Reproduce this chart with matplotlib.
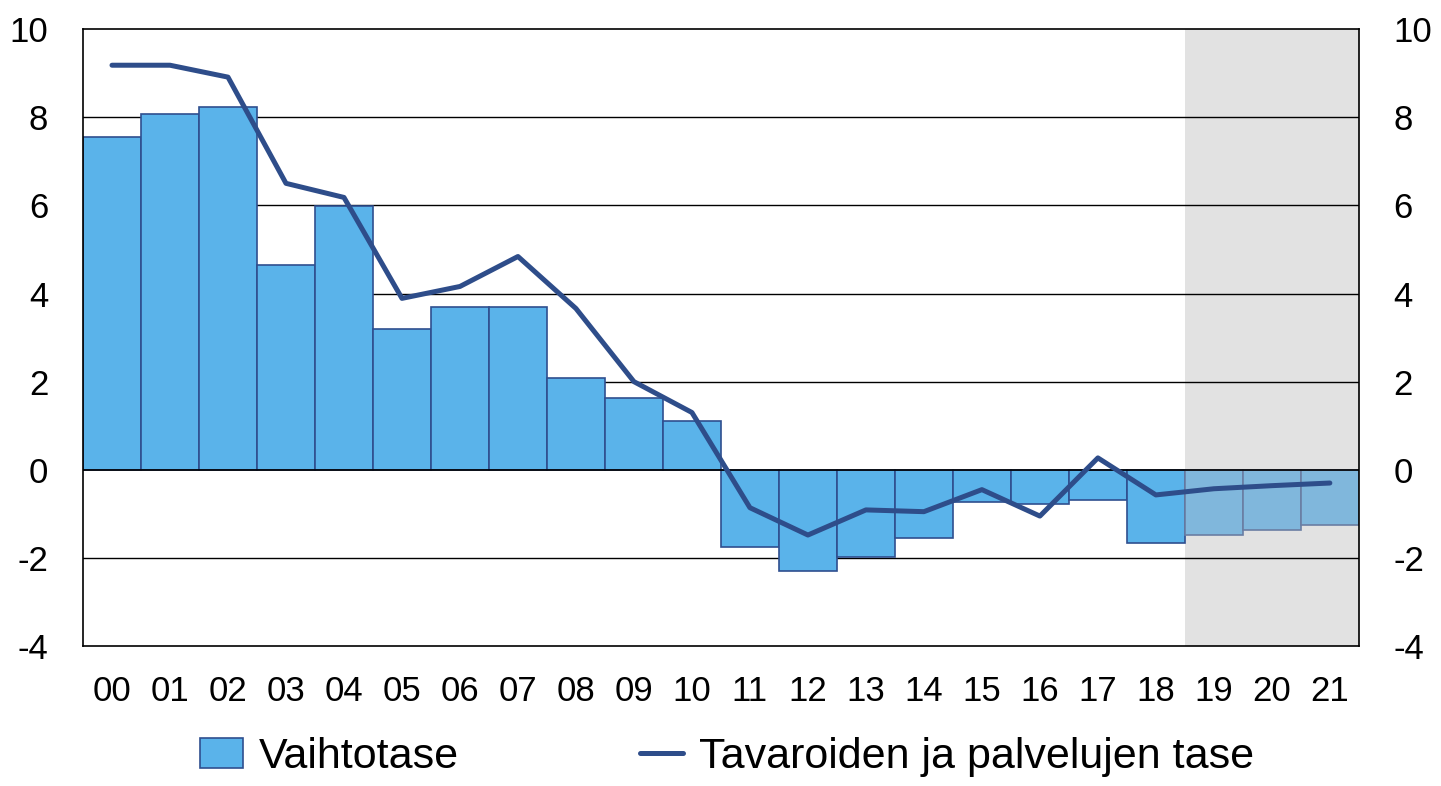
import matplotlib.pyplot as plt
from matplotlib.ticker import FuncFormatter
import numpy as np

plt.rcParams['font.family'] = ['Liberation Sans', 'DejaVu Sans']

years = ['00', '01', '02', '03', '04', '05', '06', '07', '08', '09', '10',
         '11', '12', '13', '14', '15', '16', '17', '18', '19', '20', '21']
vaihtotase = [7.55, 8.07, 8.23, 4.64, 5.98, 3.20, 3.70, 3.70, 2.09, 1.64, 1.11,
              -1.75, -2.30, -1.98, -1.55, -0.73, -0.77, -0.68, -1.66, -1.48, -1.36, -1.25]
tavarat = [9.18, 9.18, 8.91, 6.50, 6.18, 3.89, 4.16, 4.84, 3.66, 2.00, 1.30,
           -0.86, -1.48, -0.91, -0.95, -0.45, -1.05, 0.27, -0.57, -0.43, -0.36, -0.30]
n_forecast = 3

fig = plt.figure(figsize=(14.41, 7.86), dpi=100)
ax = fig.add_axes([0.0576, 0.178, 0.8854, 0.785])

x = np.arange(len(years))
n_hist = len(years) - n_forecast

# forecast shading
ax.axvspan(n_hist - 0.5, len(years) - 0.5, color='#e2e2e2', zorder=0, lw=0)

bars = ax.bar(x[:n_hist], vaihtotase[:n_hist], width=1.0, color='#5ab3ea',
              edgecolor='#2f4f8f', linewidth=1.2, zorder=2)
ax.bar(x[n_hist:], vaihtotase[n_hist:], width=1.0, color='#80b7dc',
       edgecolor='#6a7ea3', linewidth=1.2, zorder=2)
line, = ax.plot(x, tavarat, color='#2e4d8a', linewidth=3.6, solid_capstyle='round',
                zorder=4)

ax.axhline(0, color='black', linewidth=1.2, zorder=3)
for v in [-2, 2, 4, 6, 8]:
    ax.axhline(v, color='black', linewidth=1.0, zorder=1)

ax.set_xlim(-0.5, len(years) - 0.5)
ax.set_ylim(-4, 10)
ax.set_yticks(range(-4, 11, 2))
ax.yaxis.set_major_formatter(FuncFormatter(lambda v, p: '%d' % v))
ax.set_xticks(x)
ax.set_xticklabels(years)
ax.tick_params(axis='both', length=0, labelsize=25)
ax.tick_params(axis='x', pad=21)
ax.tick_params(axis='y', labelright=True, pad=25)
for s in ax.spines.values():
    s.set_linewidth(1.2)
    s.set_zorder(5)

fig.legend([bars, line], ['Vaihtotase', 'Tavaroiden ja palvelujen tase'],
           loc='center', bbox_to_anchor=(0.5045, 0.037), ncol=2, frameon=False,
           fontsize=31, columnspacing=4.2, handlelength=1.0, handletextpad=0.38)

fig.savefig('out.png', dpi=100)
